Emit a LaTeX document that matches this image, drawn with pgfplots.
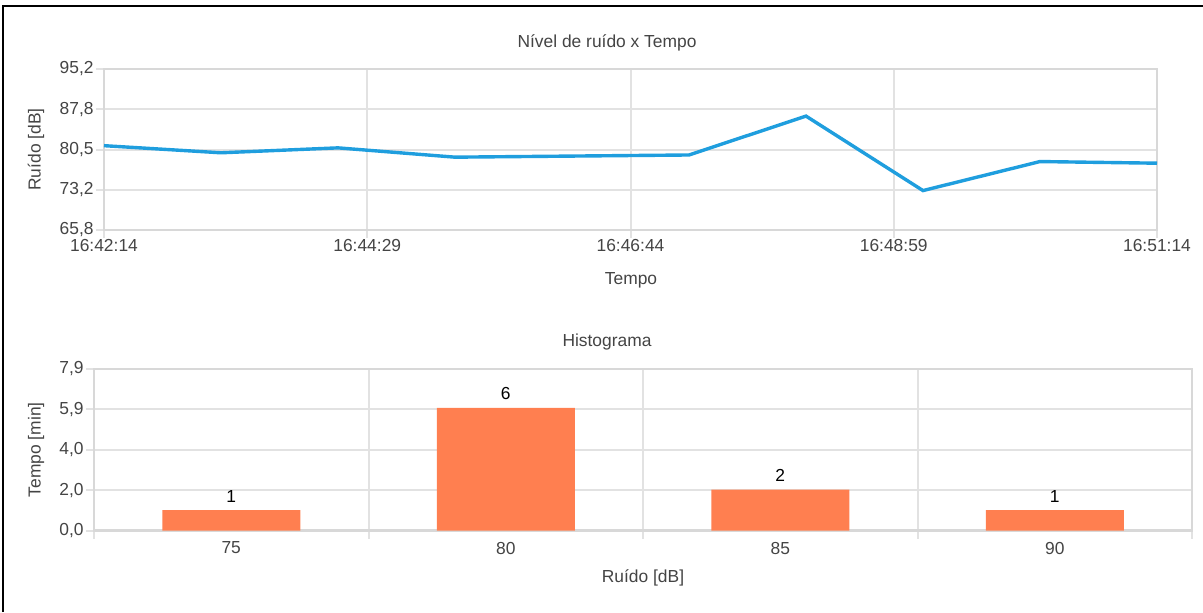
\documentclass[border=0pt]{standalone}
\usepackage{pgfplots}
\pgfplotsset{compat=1.18}
\usepackage{fontspec}
\setmainfont{Liberation Sans}

\definecolor{linha}{RGB}{31,158,222}
\definecolor{barra}{RGB}{255,127,80}
\definecolor{grade}{RGB}{226,226,226}
\definecolor{eixo}{RGB}{216,216,216}
\definecolor{texto}{RGB}{68,68,68}

\pgfplotsset{
  painel/.style={
    scale only axis,
    anchor=south west,
    font=\fontsize{8.7}{10.4}\selectfont,
    /pgf/number format/assume math mode=true,
    axis line style={draw=eixo, line width=1.1pt},
    grid style={draw=grade, line width=1pt},
    tick style={draw=grade, line width=1pt},
    major tick length=4pt,
    tick align=outside,
    tick pos=left,
    every axis title shift=0pt,
    xticklabel style={text=texto, inner sep=0.5pt},
    yticklabel style={text=texto, inner sep=1pt},
    title style={text=texto, anchor=center},
    label style={text=texto, anchor=center},
  }
}

\begin{document}
\begin{tikzpicture}
\useasboundingbox (0,0) rectangle (601.5pt,306pt);
\draw[line width=1pt] (1.65pt,0) -- (1.65pt,303pt) -- (601.5pt,303pt);

% nivel de ruido ao longo do tempo (segundos desde 16:42:14)
\begin{axis}[painel,
  at={(52pt,191pt)}, width=526.5pt, height=80.5pt,
  xmin=0, xmax=540, ymin=65.8, ymax=95.2,
  xtick={0,135,270,405,540},
  xticklabels={16:42:14,16:44:29,16:46:44,16:48:59,16:51:14},
  ytick={65.8,73.15,80.5,87.85,95.2},
  yticklabels={{65,8},{73,2},{80,5},{87,8},{95,2}},
  grid=major,
  title={Nível de ruído x Tempo}, title style={at={(0.4777,1.1615)}},
  xlabel={Tempo}, xlabel style={at={(0.5005,-0.3106)}},
  ylabel={Ruído [dB]}, ylabel style={at={(-0.0646,0.5)}},
]
\addplot[linha, line width=1.7pt, mark=none] table {
t db
0 81.2
60 79.9
120 80.8
180 79.1
240 79.3
300 79.5
360 86.6
420 73.0
480 78.3
540 78.0
};
\end{axis}

% histograma
\begin{axis}[painel,
  at={(47pt,40.75pt)}, width=549pt, height=80.75pt,
  xmin=0, xmax=4, ymin=0, ymax=7.9,
  xtick={0,1,2,3,4}, xticklabels={},
  xmajorgrids=true, ymajorgrids=true,
  extra x ticks={0.5,1.5,2.5,3.5},
  extra x tick labels={75,80,85,90},
  extra x tick style={grid=none, major tick length=0pt,
    xticklabel style={yshift=-5pt}},
  ytick={0,1.975,3.95,5.925,7.9},
  yticklabels={{0,0},{2,0},{4,0},{5,9},{7,9}},
  title={Histograma}, title style={at={(0.4672,1.167)}},
  xlabel={Ruído [dB]}, xlabel style={at={(0.5,-0.294)}},
  ylabel={Tempo [min]}, ylabel style={at={(-0.0528,0.5)}},
  nodes near coords,
  nodes near coords style={text=black, anchor=center, yshift=7pt},
]
\addplot[ybar, bar width=69pt, fill=barra, draw=none] coordinates {
(0.5,1) (1.5,6) (2.5,2) (3.5,1)
};
\end{axis}
\end{tikzpicture}
\end{document}
